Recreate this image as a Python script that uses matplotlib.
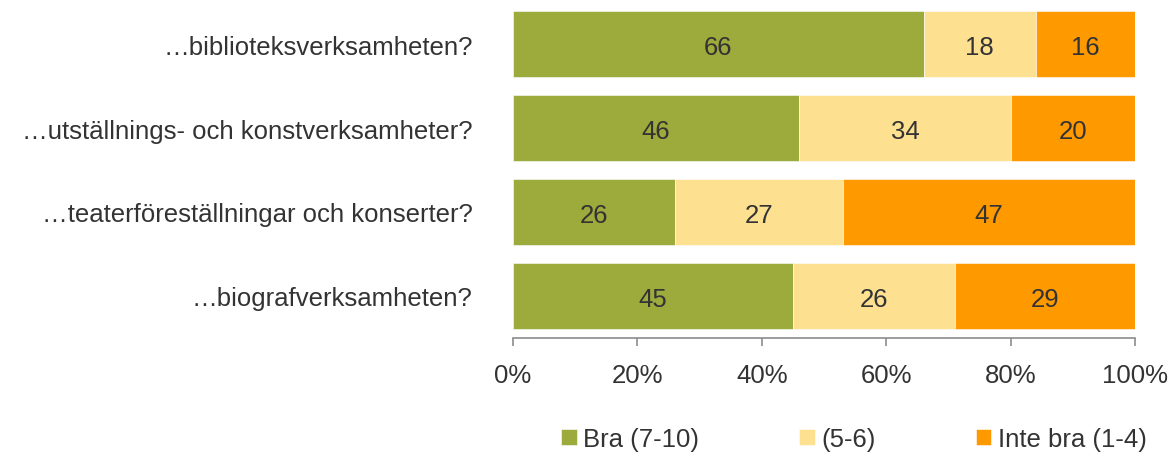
import matplotlib.pyplot as plt
import numpy as np

plt.rcParams['font.family'] = ['Liberation Sans', 'DejaVu Sans']

categories = ['…biblioteksverksamheten?',
              '…utställnings- och konstverksamheter?',
              '…teaterföreställningar och konserter?',
              '…biografverksamheten?']
bra = [66, 46, 26, 45]
mellan = [18, 34, 27, 26]
inte_bra = [16, 20, 47, 29]
series_names = ['Bra (7-10)', '(5-6)', 'Inte bra (1-4)']
colors = ['#9CAB3B', '#FDE191', '#FF9900']
text_color = '#333333'

fig = plt.figure(figsize=(11.71, 4.56), dpi=100)
ax = fig.add_axes([0.438, 0.2566, 0.5315, 0.7368])

y = np.arange(len(categories))
left = np.zeros(len(categories))
for vals, name, col in zip([bra, mellan, inte_bra], series_names, colors):
    vals = np.array(vals)
    bars = ax.barh(y, vals, left=left, height=0.79, color=col, label=name,
                   edgecolor='white', linewidth=0.4)
    # value labels, a touch below the bar centre like the original
    for b, v in zip(bars, vals):
        ax.text(b.get_x() + b.get_width() / 2, b.get_y() + b.get_height() / 2 + 0.04,
                str(v), ha='center', va='center', fontsize=18.5, color=text_color)
    left += vals

ax.set_xlim(0, 100)
ax.set_ylim(3.5, -0.5)
ax.set_yticks(y)
ax.set_yticklabels(categories, fontsize=18.5, color=text_color)
ax.tick_params(axis='y', length=0, pad=29)
ax.set_xticks(range(0, 101, 20))
ax.set_xticklabels([f'{t}%' for t in range(0, 101, 20)], fontsize=18.5, color=text_color)
ax.tick_params(axis='x', length=6, width=1.2, color='#8C8C8C', pad=12)

for s in ['top', 'right', 'left']:
    ax.spines[s].set_visible(False)
ax.spines['bottom'].set_color('#8C8C8C')
ax.spines['bottom'].set_linewidth(1.2)

leg = fig.legend(loc='center', bbox_to_anchor=(854 / 1171, 1 - 440 / 456), ncol=3,
                 frameon=False, fontsize=18.5, handlelength=0.6, handleheight=0.6,
                 handletextpad=0.25, columnspacing=3.9)
for t in leg.get_texts():
    t.set_color(text_color)

fig.savefig('out.png', dpi=100)
